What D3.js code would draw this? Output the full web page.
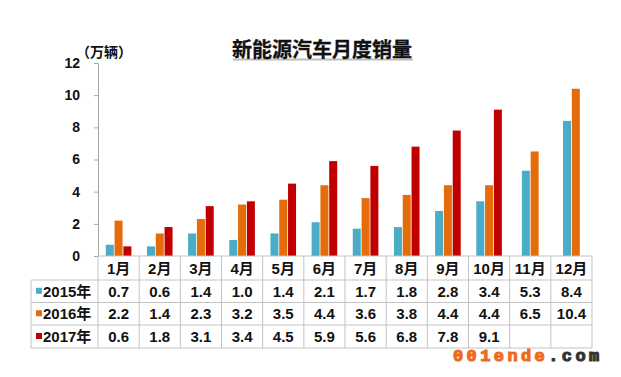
<!DOCTYPE html>
<html>
<head>
<meta charset="utf-8">
<script src="https://cdn.jsdelivr.net/npm/d3@7"></script>
<style>
  body { margin: 0; background: #fff; }
  text { font-family: Arial, "Liberation Sans", "Noto Sans CJK SC", sans-serif; font-weight: bold; fill: #111; }
</style>
</head>
<body>
<script>
// chart data
var months = ["1月", "2月", "3月", "4月", "5月", "6月", "7月", "8月", "9月", "10月", "11月", "12月"];
var seriesNames = ["2015年", "2016年", "2017年"];
var colors = ["#4bacc6", "#e46c0a", "#c00000"];
var sales2015 = [0.7, 0.6, 1.4, 1.0, 1.4, 2.1, 1.7, 1.8, 2.8, 3.4, 5.3, 8.4];
var sales2016 = [2.2, 1.4, 2.3, 3.2, 3.5, 4.4, 3.6, 3.8, 4.4, 4.4, 6.5, 10.4];
var sales2017 = [0.6, 1.8, 3.1, 3.4, 4.5, 5.9, 5.6, 6.8, 7.8, 9.1, null, null];
var yTicks = [0, 2, 4, 6, 8, 10, 12];

var series = [sales2015, sales2016, sales2017];

var width = 621, height = 377;
var plotLeft = 98, plotRight = 592, plotTop = 63, baseY = 256;
var tableLeft = 31;
var rowY = [256, 280, 302.5, 325, 348];

var svg = d3.select("body").append("svg")
    .attr("width", width)
    .attr("height", height);

// set the ranges
var x = d3.scaleBand().domain(months).range([plotLeft, plotRight]);
var y = d3.scaleLinear().domain([0, 12]).range([baseY, plotTop]);
var barW = 8.8;

// title
svg.append("line")
    .attr("x1", 233).attr("x2", 413)
    .attr("y1", 59.5).attr("y2", 59.5)
    .style("stroke", "#bdbdbd")
    .style("stroke-width", 2);
svg.append("text")
    .attr("x", 322)
    .attr("y", 57)
    .attr("text-anchor", "middle")
    .style("font-size", "20px")
    .style("stroke", "#111")
    .style("stroke-width", 0.3)
    .text("新能源汽车月度销量");

// unit label
svg.append("text")
    .attr("x", 76)
    .attr("y", 57)
    .style("font-size", "14px")
    .style("font-family", "'Noto Sans CJK SC', sans-serif")
    .text("（万辆）");

// Y axis
var yAxis = svg.append("g")
    .attr("transform", "translate(" + plotLeft + ",0)")
    .call(d3.axisLeft(y).tickValues(yTicks).tickSize(4).tickPadding(14).tickFormat(d3.format("d")));
yAxis.select(".domain").style("stroke", "#a6a6a6");
yAxis.selectAll(".tick line").style("stroke", "#a6a6a6");
yAxis.selectAll(".tick text")
    .style("font-size", "14px")
    .style("font-family", "Arial, 'Liberation Sans', sans-serif")
    .style("fill", "#111");

// bars, centered on the available values of each month
months.forEach(function(m, i) {
  var vals = [];
  series.forEach(function(s, k) {
    if (s[i] != null) vals.push({k: k, v: s[i]});
  });
  var x0 = x(m) + x.bandwidth() / 2 - vals.length * barW / 2;
  vals.forEach(function(d, j) {
    svg.append("rect")
        .attr("x", x0 + j * barW + 0.4)
        .attr("y", y(d.v))
        .attr("width", barW - 0.8)
        .attr("height", baseY - y(d.v))
        .style("fill", colors[d.k]);
  });
});

// data table grid
var grid = svg.append("g").style("stroke", "#c3c3c3").style("stroke-width", 1);
grid.append("line").attr("x1", plotLeft).attr("x2", plotRight).attr("y1", rowY[0]).attr("y2", rowY[0]);
for (var r = 1; r < rowY.length; r++) {
  grid.append("line").attr("x1", tableLeft).attr("x2", plotRight).attr("y1", rowY[r]).attr("y2", rowY[r]);
}
grid.append("line").attr("x1", tableLeft).attr("x2", tableLeft).attr("y1", rowY[1]).attr("y2", rowY[4]);
months.forEach(function(m) {
  grid.append("line").attr("x1", x(m)).attr("x2", x(m)).attr("y1", rowY[0]).attr("y2", rowY[4]);
});
grid.append("line").attr("x1", plotRight).attr("x2", plotRight).attr("y1", rowY[0]).attr("y2", rowY[4]);

// month header
svg.selectAll(".month")
    .data(months)
  .enter().append("text")
    .attr("x", function(d) { return x(d) + x.bandwidth() / 2; })
    .attr("y", (rowY[0] + rowY[1]) / 2 + 5.5)
    .attr("text-anchor", "middle")
    .style("font-size", "15px")
    .text(function(d) { return d; });

// legend column and values
seriesNames.forEach(function(name, k) {
  var cy = (rowY[k + 1] + rowY[k + 2]) / 2;
  svg.append("rect")
      .attr("x", 36).attr("y", cy - 3.5)
      .attr("width", 6).attr("height", 6)
      .style("fill", colors[k]);
  svg.append("text")
      .attr("x", 43)
      .attr("y", cy + 5.5)
      .style("font-size", "15px")
      .text(name);
  series[k].forEach(function(v, i) {
    if (v == null) return;
    svg.append("text")
        .attr("x", x(months[i]) + x.bandwidth() / 2)
        .attr("y", cy + 5.5)
        .attr("text-anchor", "middle")
        .style("font-size", "15px")
        .text(d3.format(".1f")(v));
  });
});

// watermark
var wm = svg.append("text")
    .attr("x", 453)
    .attr("y", 361)
    .style("font-family", "'Liberation Mono', 'DejaVu Sans Mono', monospace")
    .style("font-size", "17px")
    .style("letter-spacing", "3.4px")
    .style("stroke-width", 1.1);
wm.append("tspan").style("fill", "#ee6a1a").style("stroke", "#ee6a1a").text("001ende");
wm.append("tspan").style("fill", "#333").style("stroke", "#333").text(".com");
</script>
</body>
</html>
